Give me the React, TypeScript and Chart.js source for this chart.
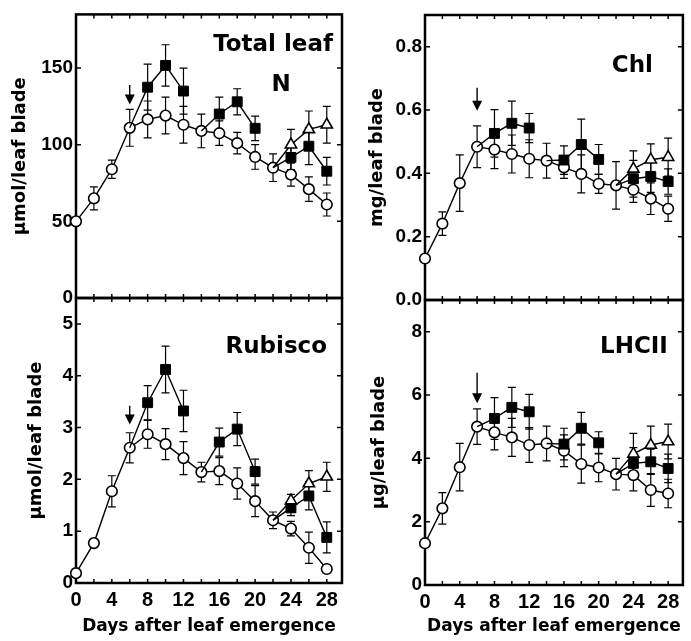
import React, { useEffect, useRef } from "react";
import { Chart, registerables } from "chart.js";

Chart.register(...registerables);

// ---------- shared data ----------
const days = [0, 2, 4, 6, 8, 10, 12, 14, 16, 18, 20, 22, 24, 26, 28];
const xTickLabels = [0, 4, 8, 12, 16, 20, 24, 28];
const squareBranchStarts = [6, 14, 22];
const triangleBranchStarts = [22];
const arrowDay = 6;
const xTitle = "Days after leaf emergence";

// ---------- Total leaf N ----------
const nCtrl = [50, 65, 84, 111, 116.5, 119, 113, 109, 107.5, 101, 92, 85, 80.5, 71, 61];
const nCtrlErr = [0, 7.5, 6, 12, 12, 12, 12, 11, 8, 7, 8, 9, 7.5, 8, 7.5];
const nSq = [null, null, null, null, 137.5, 151.7, 135, null, 120, 128, 110.7, null, 91.7, 99, 82.7];
const nSqErr = [0, 0, 0, 0, 15, 13.5, 15, 0, 11, 8.5, 8, 0, 8, 12, 9];
const nTri = [null, null, null, null, null, null, null, null, null, null, null, null, 100, 110, 113];
const nTriErr = [0, 0, 0, 0, 0, 0, 0, 0, 0, 0, 0, 0, 10, 12, 12];
const nYTicks = [0, 50, 100, 150];
const nYMax = 185;
const nArrow = [139, 126.3];

// ---------- Chl ----------
const chlCtrl = [0.131, 0.241, 0.369, 0.484, 0.475, 0.461, 0.446, 0.44, 0.419, 0.398, 0.367, 0.362, 0.348, 0.32, 0.288];
const chlCtrlErr = [0, 0.037, 0.089, 0.066, 0.06, 0.06, 0.06, 0.055, 0.035, 0.06, 0.03, 0.075, 0.04, 0.05, 0.04];
const chlSq = [null, null, null, null, 0.526, 0.558, 0.543, null, 0.442, 0.491, 0.444, null, 0.383, 0.39, 0.374];
const chlSqErr = [0, 0, 0, 0, 0.075, 0.07, 0.046, 0, 0.045, 0.08, 0.047, 0, 0.058, 0.05, 0.04];
const chlTri = [null, null, null, null, null, null, null, null, null, null, null, null, 0.414, 0.443, 0.451];
const chlTriErr = [0, 0, 0, 0, 0, 0, 0, 0, 0, 0, 0, 0, 0.057, 0.05, 0.06];
const chlYTicks = [0, 0.2, 0.4, 0.6, 0.8];
const chlYMax = 0.9;
const chlArrow = [0.67, 0.598];

// ---------- Rubisco ----------
const rubCtrl = [0.19, 0.77, 1.77, 2.61, 2.87, 2.68, 2.41, 2.14, 2.16, 1.92, 1.58, 1.21, 1.05, 0.68, 0.27];
const rubCtrlErr = [0, 0, 0.3, 0.29, 0.27, 0.3, 0.32, 0.19, 0.26, 0.3, 0.3, 0.16, 0.14, 0.3, 0.05];
const rubSq = [null, null, null, null, 3.48, 4.12, 3.32, null, 2.72, 2.97, 2.15, null, 1.45, 1.68, 0.88];
const rubSqErr = [0, 0, 0, 0, 0.33, 0.45, 0.4, 0, 0.27, 0.32, 0.24, 0, 0.15, 0.27, 0.3];
const rubTri = [null, null, null, null, null, null, null, null, null, null, null, null, 1.59, 1.92, 2.05];
const rubTriErr = [0, 0, 0, 0, 0, 0, 0, 0, 0, 0, 0, 0, 0.12, 0.25, 0.28];
const rubYTicks = [0, 1, 2, 3, 4, 5];
const rubYMax = 5.5;
const rubArrow = [3.42, 3.06];

// ---------- LHCII ----------
const lhcCtrl = [1.32, 2.42, 3.72, 5.0, 4.82, 4.66, 4.42, 4.47, 4.24, 3.82, 3.71, 3.5, 3.47, 3.0, 2.89];
const lhcCtrlErr = [0, 0.5, 0.75, 0.56, 0.55, 0.6, 0.55, 0.55, 0.5, 0.6, 0.45, 0.5, 0.5, 0.52, 0.45];
const lhcSq = [null, null, null, null, 5.26, 5.61, 5.47, null, 4.45, 4.95, 4.49, null, 3.84, 3.89, 3.68];
const lhcSqErr = [0, 0, 0, 0, 0.66, 0.63, 0.55, 0, 0.5, 0.5, 0.35, 0, 0.5, 0.4, 0.45];
const lhcTri = [null, null, null, null, null, null, null, null, null, null, null, null, 4.14, 4.42, 4.53];
const lhcTriErr = [0, 0, 0, 0, 0, 0, 0, 0, 0, 0, 0, 0, 0.65, 0.6, 0.55];
const lhcYTicks = [0, 2, 4, 6, 8];
const lhcYMax = 9;
const lhcArrow = [6.7, 5.74];

// ---------- styling / layout ----------
const W = 691;
const H = 641;
const TICK_FONT = '"Liberation Sans", Arial, Helvetica, sans-serif';
const TITLE_FONT = '"DejaVu Sans", "Liberation Sans", sans-serif';

type Label = { text: string; align: "right" | "center"; dx: number; dy: number };

type PanelCfg = {
  yTitle: string;
  ctrl: number[];
  ctrlErr: number[];
  sq: (number | null)[];
  sqErr: number[];
  tri: (number | null)[];
  triErr: number[];
  yTicks: number[];
  yMax: number;
  arrow: number[];
  decimals: number;
  area: { left: number; top: number; right: number; bottom: number };
  yw: number;
  yTitlePad: number;
  showX: boolean;
  labels: Label[];
};

const panels: PanelCfg[] = [
  {
    yTitle: "µmol/leaf blade", ctrl: nCtrl, ctrlErr: nCtrlErr, sq: nSq, sqErr: nSqErr, tri: nTri, triErr: nTriErr,
    yTicks: nYTicks, yMax: nYMax, arrow: nArrow, decimals: 0,
    area: { left: 76, top: 13, right: 342, bottom: 298 }, yw: 76, yTitlePad: 10, showX: false,
    labels: [
      { text: "Total leaf", align: "right", dx: -9, dy: 37 },
      { text: "N", align: "center", dx: -61, dy: 77 },
    ],
  },
  {
    yTitle: "mg/leaf blade", ctrl: chlCtrl, ctrlErr: chlCtrlErr, sq: chlSq, sqErr: chlSqErr, tri: chlTri, triErr: chlTriErr,
    yTicks: chlYTicks, yMax: chlYMax, arrow: chlArrow, decimals: 1,
    area: { left: 425, top: 15, right: 690, bottom: 300 }, yw: 70, yTitlePad: 12, showX: false,
    labels: [{ text: "Chl", align: "right", dx: -30, dy: 57 }],
  },
  {
    yTitle: "µmol/leaf blade", ctrl: rubCtrl, ctrlErr: rubCtrlErr, sq: rubSq, sqErr: rubSqErr, tri: rubTri, triErr: rubTriErr,
    yTicks: rubYTicks, yMax: rubYMax, arrow: rubArrow, decimals: 0,
    area: { left: 76, top: 298, right: 342, bottom: 583 }, yw: 76, yTitlePad: 26, showX: true,
    labels: [{ text: "Rubisco", align: "right", dx: -15, dy: 55 }],
  },
  {
    yTitle: "µg/leaf blade", ctrl: lhcCtrl, ctrlErr: lhcCtrlErr, sq: lhcSq, sqErr: lhcSqErr, tri: lhcTri, triErr: lhcTriErr,
    yTicks: lhcYTicks, yMax: lhcYMax, arrow: lhcArrow, decimals: 0,
    area: { left: 425, top: 300, right: 690, bottom: 585 }, yw: 70, yTitlePad: 14, showX: true,
    labels: [{ text: "LHCII", align: "right", dx: -15, dy: 53 }],
  },
];

// Build a treatment series whose branches start from the control curve.
function buildBranches(values: (number | null)[], ctrl: number[], errs: number[], starts: number[], r: number) {
  const data: { x: number; y: number | null }[] = [];
  const radius: number[] = [];
  const err: number[] = [];
  days.forEach((d, i) => {
    if (starts.includes(d)) {
      data.push({ x: d, y: null });
      radius.push(0);
      err.push(0);
      data.push({ x: d, y: ctrl[i] });
      radius.push(0);
      err.push(0);
    } else {
      data.push({ x: d, y: values[i] });
      radius.push(values[i] == null ? 0 : r);
      err.push(values[i] == null ? 0 : errs[i]);
    }
  });
  return { data, radius, err };
}

function makePlugin(cfg: PanelCfg) {
  return {
    id: "decor",
    beforeDatasetsDraw(chart: any) {
      const ctx = chart.ctx;
      const { left, right, top, bottom } = chart.chartArea;
      const xs = chart.scales.x;
      const ys = chart.scales.y;
      ctx.save();
      // frame
      ctx.strokeStyle = "#000";
      ctx.lineWidth = 2.5;
      ctx.strokeRect(left, top, right - left, bottom - top);
      // inward ticks
      ctx.lineWidth = 1.5;
      ctx.beginPath();
      cfg.yTicks.forEach((v) => {
        const y = ys.getPixelForValue(v);
        ctx.moveTo(left, y);
        ctx.lineTo(left + 5, y);
        ctx.moveTo(right, y);
        ctx.lineTo(right - 5, y);
      });
      days.forEach((d) => {
        const x = xs.getPixelForValue(d);
        ctx.moveTo(x, bottom);
        ctx.lineTo(x, bottom - 4);
        ctx.moveTo(x, top);
        ctx.lineTo(x, top + 4);
      });
      ctx.stroke();
      // error bars
      ctx.lineWidth = 1.2;
      chart.data.datasets.forEach((ds: any) => {
        const errs = ds.errorBars as number[] | undefined;
        if (!errs) return;
        ds.data.forEach((p: any, i: number) => {
          const e = errs[i];
          if (!p || p.y == null || !e) return;
          const x = xs.getPixelForValue(p.x);
          const y1 = ys.getPixelForValue(p.y + e);
          const y2 = ys.getPixelForValue(p.y - e);
          ctx.beginPath();
          ctx.moveTo(x, y1);
          ctx.lineTo(x, y2);
          ctx.moveTo(x - 4, y1);
          ctx.lineTo(x + 4, y1);
          ctx.moveTo(x - 4, y2);
          ctx.lineTo(x + 4, y2);
          ctx.stroke();
        });
      });
      ctx.restore();
    },
    afterDatasetsDraw(chart: any) {
      const ctx = chart.ctx;
      const { right, top } = chart.chartArea;
      const xs = chart.scales.x;
      const ys = chart.scales.y;
      ctx.save();
      // arrow
      const ax = xs.getPixelForValue(arrowDay);
      const yTail = ys.getPixelForValue(cfg.arrow[0]);
      const yTip = ys.getPixelForValue(cfg.arrow[1]);
      ctx.strokeStyle = "#000";
      ctx.fillStyle = "#000";
      ctx.lineWidth = 1.4;
      ctx.beginPath();
      ctx.moveTo(ax, yTail);
      ctx.lineTo(ax, yTip - 7);
      ctx.stroke();
      ctx.beginPath();
      ctx.moveTo(ax - 5, yTip - 10);
      ctx.lineTo(ax + 5, yTip - 10);
      ctx.lineTo(ax, yTip);
      ctx.closePath();
      ctx.fill();
      // panel labels
      ctx.font = `bold 23px ${TITLE_FONT}`;
      ctx.textBaseline = "alphabetic";
      cfg.labels.forEach((l) => {
        ctx.textAlign = l.align;
        ctx.fillText(l.text, right + l.dx, top + l.dy);
      });
      ctx.restore();
    },
  };
}

function Panel({ cfg }: { cfg: PanelCfg }) {
  const ref = useRef<HTMLCanvasElement>(null);
  useEffect(() => {
    const canvas = ref.current;
    if (!canvas) return;
    const sq = buildBranches(cfg.sq, cfg.ctrl, cfg.sqErr, squareBranchStarts, 7);
    const tri = buildBranches(cfg.tri, cfg.ctrl, cfg.triErr, triangleBranchStarts, 6.5);
    const a = cfg.area;
    const xh = cfg.showX ? H - a.bottom : 0;
    const chart = new Chart(canvas, {
      type: "line",
      data: {
        datasets: [
          {
            label: "triangles",
            data: tri.data,
            errorBars: tri.err,
            borderColor: "#000",
            borderWidth: 1.4,
            pointStyle: "triangle",
            pointRadius: tri.radius,
            pointBackgroundColor: "#fff",
            pointBorderColor: "#000",
            pointBorderWidth: 1.6,
            clip: false,
            fill: false,
            tension: 0,
            spanGaps: false,
          } as any,
          {
            label: "squares",
            data: sq.data,
            errorBars: sq.err,
            borderColor: "#000",
            borderWidth: 1.4,
            pointStyle: "rect",
            pointRadius: sq.radius,
            pointBackgroundColor: "#000",
            pointBorderColor: "#000",
            pointBorderWidth: 1,
            clip: false,
            fill: false,
            tension: 0,
            spanGaps: false,
          } as any,
          {
            label: "control",
            data: days.map((d, i) => ({ x: d, y: cfg.ctrl[i] })),
            errorBars: cfg.ctrlErr,
            borderColor: "#000",
            borderWidth: 1.4,
            pointStyle: "circle",
            pointRadius: 5.3,
            pointBackgroundColor: "#fff",
            pointBorderColor: "#000",
            pointBorderWidth: 1.6,
            clip: false,
            fill: false,
            tension: 0,
          } as any,
        ],
      },
      options: {
        responsive: false,
        animation: false,
        devicePixelRatio: 1,
        events: [],
        layout: {
          padding: { left: a.left - cfg.yw, top: a.top, right: W - a.right, bottom: H - a.bottom - xh },
        },
        plugins: { legend: { display: false }, tooltip: { enabled: false }, title: { display: false } },
        scales: {
          x: {
            type: "linear",
            position: "bottom",
            min: 0,
            max: 29.7,
            grid: { display: false, drawTicks: false },
            border: { display: false },
            afterBuildTicks: (s: any) => {
              s.ticks = xTickLabels.map((v) => ({ value: v }));
            },
            afterFit: (s: any) => {
              s.height = xh;
            },
            ticks: {
              display: cfg.showX,
              autoSkip: false,
              maxRotation: 0,
              padding: 5,
              color: "#000",
              font: { family: TICK_FONT, size: 20, weight: "bold" },
              callback: (v: any) => String(v),
            },
            title: {
              display: cfg.showX,
              text: xTitle,
              color: "#000",
              font: { family: TITLE_FONT, size: 17, weight: "bold" },
              padding: { top: 0, bottom: 4 },
            },
          },
          y: {
            type: "linear",
            position: "left",
            min: 0,
            max: cfg.yMax,
            grid: { display: false, drawTicks: false },
            border: { display: false },
            afterBuildTicks: (s: any) => {
              s.ticks = cfg.yTicks.map((v) => ({ value: v }));
            },
            afterFit: (s: any) => {
              s.width = cfg.yw;
            },
            ticks: {
              autoSkip: false,
              padding: 3,
              color: "#000",
              font: { family: TICK_FONT, size: 19, weight: "bold" },
              callback: (v: any) => Number(v).toFixed(cfg.decimals),
            },
            title: {
              display: true,
              text: cfg.yTitle,
              color: "#000",
              font: { family: TITLE_FONT, size: 18, weight: "bold" },
              padding: { top: cfg.yTitlePad, bottom: 0 },
            },
          },
        },
      } as any,
      plugins: [makePlugin(cfg)],
    });
    return () => chart.destroy();
  }, [cfg]);
  return <canvas ref={ref} width={W} height={H} style={{ position: "absolute", left: 0, top: 0 }} />;
}

export default function App() {
  return (
    <div style={{ position: "absolute", left: 0, top: 0, width: W, height: H, background: "#fff", overflow: "hidden" }}>
      {panels.map((p, i) => (
        <Panel key={i} cfg={p} />
      ))}
    </div>
  );
}
